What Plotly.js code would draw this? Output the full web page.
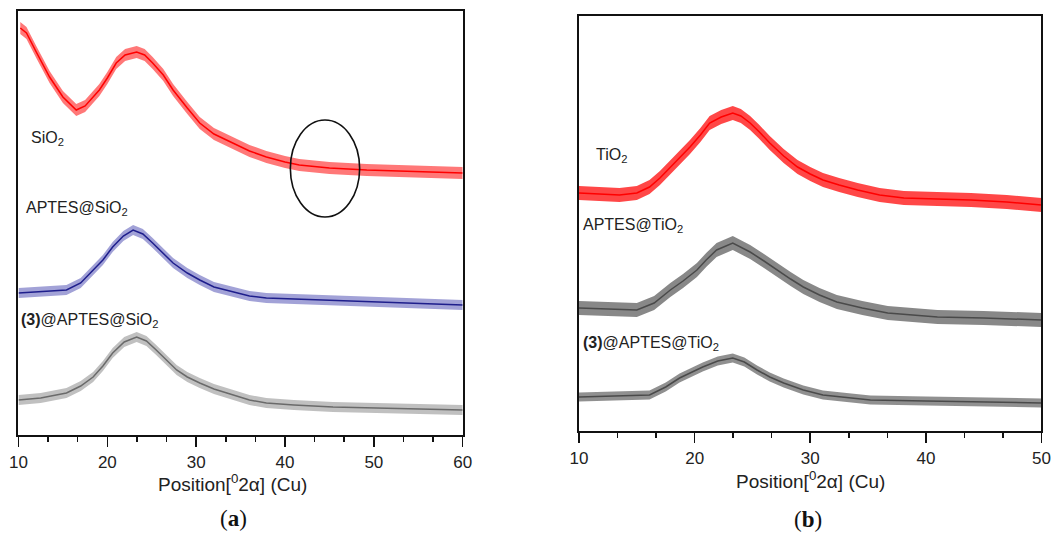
<!DOCTYPE html>
<html>
<head>
<meta charset="utf-8">
<script src="https://cdn.plot.ly/plotly-3.0.1.min.js"></script>
<style>html,body{margin:0;padding:0;background:#fff}#chart{width:1051px;height:533px}</style>
</head>
<body>
<div id="chart"></div>
<script>
// ---------- Panel (a): SiO2 series (2θ in degrees, intensity in a.u.) ----------
const sio2X = [10.2, 10.9, 12, 13.5, 15, 16.5, 17.5, 19.1, 20, 21, 22, 23.3, 24.2, 25.1, 26.3, 27.4, 29, 30.4, 32, 34.1, 36, 37.9, 40, 41.6, 45, 49.2, 55, 60];
const sio2Y = [406, 401, 382, 357, 337, 324, 328, 344, 356, 371, 379, 382, 379, 371, 359, 344, 326, 311, 300, 291, 283, 277, 272, 269, 266, 264, 262, 261];

const aptesSiX = [10, 12, 14, 15.4, 17, 18.4, 19.5, 20.6, 21.8, 22.9, 24, 25.1, 26.2, 27.4, 29, 30.4, 32, 34.1, 36, 37.9, 41, 45.4, 50, 55, 60];
const aptesSiY = [141, 142, 143, 144, 151, 164, 174, 187, 198, 204, 200, 191, 181, 171, 161, 154, 147, 142, 138, 136, 135, 134, 132, 131, 129];

const c3SiX = [10, 12.5, 15.4, 17, 18.4, 19.5, 20.6, 21.9, 23.3, 24.4, 25.5, 26.6, 27.8, 29, 30.4, 32, 34.1, 36, 37.9, 41, 45.4, 50, 55, 60];
const c3SiY = [34, 36, 41, 48, 57, 68, 81, 92, 97, 93, 84, 74, 64, 57, 51, 45, 39, 34, 31, 29, 27, 26, 25, 24];

// ---------- Panel (b): TiO2 series ----------
const tio2X = [10, 12, 13.5, 15, 16.1, 17, 17.9, 18.8, 19.6, 20.5, 21.3, 22.3, 23.3, 24, 24.8, 25.6, 26.5, 27.7, 28.9, 30, 31.1, 32.5, 34.1, 36, 38.1, 41, 43.9, 47, 50];
const tio2Y = [238, 237, 236, 238, 244, 253, 264, 274, 284, 296, 308, 314, 318, 315, 308, 299, 288, 275, 264, 257, 251, 246, 241, 236, 233, 232, 231, 229, 226];

const aptesTiX = [10, 12.5, 15, 16.5, 17.9, 19, 20.2, 21, 21.9, 23.3, 24.8, 26, 27.1, 28.3, 29.4, 30.8, 32.3, 34.5, 36.7, 41, 45, 50];
const aptesTiY = [123, 122, 121, 128, 141, 150, 161, 171, 181, 188, 179, 170, 161, 152, 144, 136, 129, 123, 118, 114, 113, 111];

const c3TiX = [10, 13, 16.1, 17.5, 18.7, 20.7, 22, 23.3, 24.3, 25.4, 26.5, 27.7, 29.4, 31.1, 35.2, 40, 45, 50];
const c3TiY = [34, 35, 36, 44, 53, 64, 70, 73, 69, 61, 54, 48, 41, 36, 31, 30, 29, 28];

// noise half-width of each trace (a.u.)
const noiseHalfWidth = {sio2: 6, aptesSi: 5, c3Si: 5, tio2: 7, aptesTi: 7, c3Ti: 4.5};

const series = [
  {x: sio2X, y: sio2Y, s: noiseHalfWidth.sio2, color: '#ff0000', band: 'rgba(255,30,30,0.6)', ax: ['x', 'y']},
  {x: aptesSiX, y: aptesSiY, s: noiseHalfWidth.aptesSi, color: '#1e1e8c', band: 'rgba(70,70,175,0.5)', ax: ['x', 'y']},
  {x: c3SiX, y: c3SiY, s: noiseHalfWidth.c3Si, color: '#6a6a6a', band: 'rgba(130,130,130,0.5)', ax: ['x', 'y']},
  {x: tio2X, y: tio2Y, s: noiseHalfWidth.tio2, color: '#ff0000', band: 'rgba(255,10,10,0.75)', ax: ['x2', 'y2']},
  {x: aptesTiX, y: aptesTiY, s: noiseHalfWidth.aptesTi, color: '#4a4a4a', band: 'rgba(85,85,85,0.7)', ax: ['x2', 'y2']},
  {x: c3TiX, y: c3TiY, s: noiseHalfWidth.c3Ti, color: '#4a4a4a', band: 'rgba(85,85,85,0.65)', ax: ['x2', 'y2']}
];

const traces = [];
series.forEach(sr => {
  traces.push({x: sr.x, y: sr.y.map(v => v - sr.s), xaxis: sr.ax[0], yaxis: sr.ax[1], mode: 'lines', line: {width: 0, color: sr.band}, hoverinfo: 'skip', showlegend: false});
  traces.push({x: sr.x, y: sr.y.map(v => v + sr.s), xaxis: sr.ax[0], yaxis: sr.ax[1], mode: 'lines', fill: 'tonexty', fillcolor: sr.band, line: {width: 0, color: sr.band}, hoverinfo: 'skip', showlegend: false});
  traces.push({x: sr.x, y: sr.y, xaxis: sr.ax[0], yaxis: sr.ax[1], mode: 'lines', line: {width: 1.5, color: sr.color}, showlegend: false});
});

const tickFont = {family: 'Liberation Sans, Arial, sans-serif', size: 17, color: '#222'};
const baseX = {
  showline: true, mirror: true, linecolor: '#111', linewidth: 2,
  ticks: 'outside', ticklen: 10, tickwidth: 1.5, tickcolor: '#111',
  tick0: 10, dtick: 10, tickfont: tickFont, ticklabelstandoff: 1, ticklabeloverflow: 'allow',
  minor: {ticks: 'outside', ticklen: 5, tickwidth: 1.5, tickcolor: '#111', dtick: 10 / 3, tick0: 10, showgrid: false},
  showgrid: false, zeroline: false, fixedrange: true
};
const baseY = {showline: true, mirror: true, linecolor: '#111', linewidth: 2, ticks: '', showticklabels: false, showgrid: false, zeroline: false};

const labelFont = {family: 'Liberation Sans, Arial, sans-serif', size: 16, color: '#222'};
const titleFont = {family: 'Liberation Sans, Arial, sans-serif', size: 19, color: '#222'};
const panelFont = {family: 'Liberation Serif, Times New Roman, serif', size: 23, color: '#111'};

const layout = {
  width: 1051, height: 533,
  margin: {l: 0, r: 0, t: 0, b: 0},
  paper_bgcolor: '#ffffff', plot_bgcolor: '#ffffff',
  showlegend: false,
  xaxis: Object.assign({}, baseX, {domain: [0.01760, 0.44025], range: [10, 60], anchor: 'y'}),
  yaxis: Object.assign({}, baseY, {domain: [0.18386, 0.97936], range: [-1, 423], anchor: 'x'}),
  xaxis2: Object.assign({}, baseX, {domain: [0.55090, 0.99096], range: [10, 50], anchor: 'y2'}),
  yaxis2: Object.assign({}, baseY, {domain: [0.19137, 0.96998], range: [0, 415], anchor: 'x2'}),
  shapes: [
    {type: 'circle', xref: 'x', yref: 'y', x0: 40.6, x1: 48.4, y0: 217, y1: 314, line: {color: '#111', width: 1.6}}
  ],
  annotations: [
    {xref: 'x', yref: 'y', x: 11.2, y: 296, text: 'SiO<sub>2</sub>', showarrow: false, xanchor: 'left', yanchor: 'middle', font: labelFont},
    {xref: 'x', yref: 'y', x: 10.6, y: 226, text: 'APTES@SiO<sub>2</sub>', showarrow: false, xanchor: 'left', yanchor: 'middle', font: labelFont},
    {xref: 'x', yref: 'y', x: 10.1, y: 114, text: '<b>(3)</b>@APTES@SiO<sub>2</sub>', showarrow: false, xanchor: 'left', yanchor: 'middle', font: labelFont},
    {xref: 'x2', yref: 'y2', x: 11.3, y: 276, text: 'TiO<sub>2</sub>', showarrow: false, xanchor: 'left', yanchor: 'middle', font: labelFont},
    {xref: 'x2', yref: 'y2', x: 10.2, y: 206, text: 'APTES@TiO<sub>2</sub>', showarrow: false, xanchor: 'left', yanchor: 'middle', font: labelFont},
    {xref: 'x2', yref: 'y2', x: 10.2, y: 88, text: '<b>(3)</b>@APTES@TiO<sub>2</sub>', showarrow: false, xanchor: 'left', yanchor: 'middle', font: labelFont},
    {xref: 'paper', yref: 'paper', x: 232 / 1051, y: 1 - 483 / 533, text: 'Position[<sup>0</sup>2α] (Cu)', showarrow: false, xanchor: 'center', yanchor: 'middle', font: titleFont},
    {xref: 'paper', yref: 'paper', x: 810 / 1051, y: 1 - 480 / 533, text: 'Position[<sup>0</sup>2α] (Cu)', showarrow: false, xanchor: 'center', yanchor: 'middle', font: titleFont},
    {xref: 'paper', yref: 'paper', x: 233 / 1051, y: 1 - 518 / 533, text: '(<b>a</b>)', showarrow: false, xanchor: 'center', yanchor: 'middle', font: panelFont},
    {xref: 'paper', yref: 'paper', x: 808 / 1051, y: 1 - 519 / 533, text: '(<b>b</b>)', showarrow: false, xanchor: 'center', yanchor: 'middle', font: panelFont}
  ]
};

Plotly.newPlot('chart', traces, layout, {displayModeBar: false, staticPlot: true});
</script>
</body>
</html>
